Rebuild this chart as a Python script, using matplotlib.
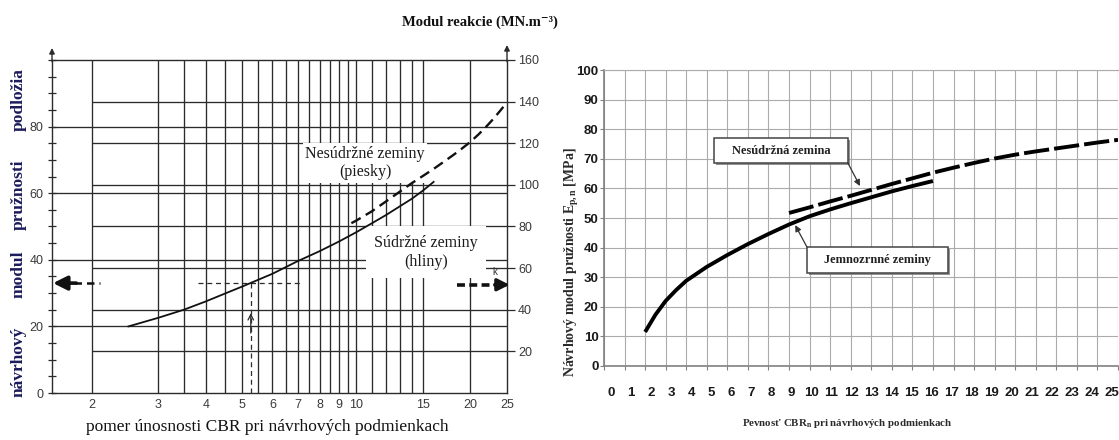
import matplotlib
matplotlib.use("Agg")
import matplotlib.pyplot as plt
from matplotlib.patches import Rectangle
from matplotlib.ticker import MultipleLocator, NullLocator, FixedLocator
from matplotlib.transforms import ScaledTranslation
import matplotlib.patheffects as pe

# ---------------- data: left panel (log CBR scale) ----------------
left_cbr_ticks = [2, 3, 4, 5, 6, 7, 8, 9, 10, 15, 20, 25]
left_cbr_grid = [2, 3, 3.5, 4, 4.5, 5, 5.5, 6, 6.5, 7, 7.5, 8, 8.5, 9, 9.5,
                 10, 11, 12, 13, 14, 15, 20]
left_e_ticks = [0, 20, 40, 60, 80]
left_e_lines = [20, 40, 60, 80]
right_k_ticks = [20, 40, 60, 80, 100, 120, 140, 160]
right_k_lines = [20, 40, 60, 80, 100, 120, 140]

cohesive_cbr = [2.5, 3, 3.5, 4, 5, 6, 7, 8, 9, 10, 11, 12, 13, 14, 15, 16]
cohesive_e = [20, 22.6, 25, 27.5, 32, 35.8, 39.6, 42.6, 45.5, 48.3, 51, 53.5,
              56, 58.3, 60.8, 63.4]
granular_cbr = [9.7, 10, 11, 12, 13, 14, 15, 16, 17, 18, 19, 20, 21, 22, 23,
                24, 25]
granular_e = [51, 51.8, 54.6, 57.6, 60.4, 63, 65.2, 67.3, 69.4, 71.4, 73.4,
              75.4, 77.6, 79.9, 82.3, 84.8, 87.3]

example_cbr = 5.26
example_e = 33

# ---------------- data: right panel (linear CBR scale) ----------------
right_cbr_ticks = list(range(0, 26))
right_e_ticks = list(range(0, 101, 10))
fine_cbr = [2, 2.5, 3, 3.5, 4, 5, 6, 7, 8, 9, 10, 11, 12, 13, 14, 15, 16]
fine_e = [11.5, 17.3, 22, 25.6, 28.8, 33.5, 37.5, 41.2, 44.6, 47.8, 50.6,
          52.9, 55, 57, 59, 60.8, 62.5]
coarse_cbr = [9, 10, 11, 12, 13, 14, 15, 16, 17, 18, 19, 20, 21, 22, 23, 24, 25]
coarse_e = [51.7, 53.6, 55.6, 57.5, 59.5, 61.5, 63.4, 65.3, 67, 68.6, 70.1,
            71.4, 72.5, 73.5, 74.5, 75.5, 76.4]

# ---------------- figure ----------------
W, H = 1119, 440
fig = plt.figure(figsize=(W / 100, H / 100), dpi=100)
plt.rcParams["mathtext.fontset"] = "custom"
plt.rcParams["mathtext.rm"] = "Liberation Serif:bold"
plt.rcParams["mathtext.bf"] = "Liberation Serif:bold"
plt.rcParams["mathtext.it"] = "Liberation Serif:bold:italic"

SERIF = ["Liberation Serif", "DejaVu Serif"]
SANS = ["Liberation Sans", "DejaVu Sans"]


def fx(px):
    return px / W


def fy(py):
    return 1 - py / H


# ================= LEFT PANEL =================
L0, R0, T0, B0 = 52, 507, 60, 393
ax1 = fig.add_axes([fx(L0), fy(B0), (R0 - L0) / W, (B0 - T0) / H])
ax1.set_xscale("log")
xmin_l = 1.57
ax1.set_xlim(xmin_l, 25)
ax1.set_ylim(0, 100)
gc = "#2b2b2b"

for x in left_cbr_grid:
    ax1.axvline(x, color=gc, lw=0.95, zorder=1)
ax1.hlines(left_e_lines, xmin_l, 25, color=gc, lw=0.95, zorder=1)
ax1.hlines([k / 1.6 for k in right_k_lines], 2, 25, color=gc, lw=0.95, zorder=1)

for s in ["left", "bottom", "top", "right"]:
    ax1.spines[s].set_color(gc)
    ax1.spines[s].set_linewidth(1.0)

ax1.xaxis.set_major_locator(FixedLocator(left_cbr_ticks))
ax1.xaxis.set_minor_locator(NullLocator())
ax1.set_xticklabels([str(v) for v in left_cbr_ticks])
ax1.tick_params(axis="x", length=0, pad=4, labelsize=9, labelcolor="#3a3a3a")
for t in ax1.get_xticklabels():
    t.set_family(SANS)

ax1.yaxis.set_major_locator(FixedLocator(left_e_ticks))
ax1.yaxis.set_minor_locator(MultipleLocator(5))
ax1.set_yticklabels([str(v) for v in left_e_ticks])
ax1.tick_params(axis="y", which="both", direction="inout", length=6, width=0.9,
                color=gc, pad=3, labelsize=9, labelcolor="#3a3a3a")
for t in ax1.get_yticklabels():
    t.set_family(SANS)

ax1r = ax1.twinx()
ax1r.set_ylim(0, 160)
ax1r.set_yticks(right_k_ticks)
ax1r.set_yticklabels([str(v) for v in right_k_ticks])
ax1r.tick_params(axis="y", direction="out", length=6, width=0.9, color=gc,
                 pad=2, labelsize=9, labelcolor="#3a3a3a")
for t in ax1r.get_yticklabels():
    t.set_family(SANS)
for s in ["left", "bottom", "top", "right"]:
    ax1r.spines[s].set_visible(False)

# curves
ax1.plot(cohesive_cbr, cohesive_e, color="#111111", lw=1.3, zorder=5)
ax1.plot(granular_cbr, granular_e, color="#111111", lw=1.7, dashes=(4.5, 2.5),
         zorder=5)

# axis arrows
for xf, tip in [(0, 1.036), (1, 1.045)]:
    ax1.annotate("", xy=(xf, tip), xytext=(xf, 0.995), xycoords="axes fraction",
                 arrowprops=dict(arrowstyle="-|>", color=gc, lw=1.0,
                                 mutation_scale=8, shrinkA=0, shrinkB=0),
                 annotation_clip=False)

# example reading lines
ax1.plot([3.81, 7.09], [example_e, example_e], color=gc, lw=0.9, dashes=(4, 3),
         zorder=4)
ax1.plot([example_cbr, example_cbr], [0, example_e], color=gc, lw=0.9,
         dashes=(4, 3), zorder=4)
ax1.annotate("", xy=(example_cbr, 24), xytext=(example_cbr, 18),
             arrowprops=dict(arrowstyle="->", color=gc, lw=0.9,
                             mutation_scale=10, shrinkA=0, shrinkB=0), zorder=4)
ax1.plot([1.8, 2.1], [example_e, example_e], color="#111111", lw=1.8,
         dashes=(3, 2), zorder=4)
ax1.annotate("", xy=(1.58, example_e), xytext=(1.82, example_e),
             arrowprops=dict(arrowstyle="-|>", color="#111111", lw=2.6,
                             mutation_scale=21, shrinkA=0, shrinkB=0),
             zorder=4, annotation_clip=False)
ax1.plot([18.4, 23.3], [32.5, 32.5], color="#111111", lw=2.6, dashes=(2.2, 1.2),
         zorder=4)
ax1.annotate("", xy=(25.4, 32.5), xytext=(23.2, 32.5),
             arrowprops=dict(arrowstyle="-|>", color="#111111", lw=2.4,
                             mutation_scale=18, shrinkA=0, shrinkB=0),
             zorder=6, annotation_clip=False)
ax1.text(22.9, 35.5, "k", fontsize=7, color="#333333", family=SANS, zorder=6)


def axfrac(px, py):
    return (px - L0) / (R0 - L0), (B0 - py) / (B0 - T0)


tx, ty = axfrac(365, 163)
ax1.text(tx, ty, "Nesúdržné zeminy\n(piesky)", transform=ax1.transAxes,
         ha="center", va="center", fontsize=11.5, family=SERIF,
         color="#1a1a1a", linespacing=1.2, zorder=3,
         bbox=dict(fc="white", ec="none", pad=2))
tx, ty = axfrac(426, 252)
ax1.text(tx, ty, "Súdržné zeminy\n(hliny)", transform=ax1.transAxes,
         ha="center", va="center", fontsize=11.5, family=SERIF,
         color="#1a1a1a", linespacing=1.25, zorder=3,
         bbox=dict(fc="white", ec="none", pad=6))

# texts outside
fig.text(fx(480), fy(22), "Modul reakcie (MN.m⁻³)", ha="center", va="center",
         fontsize=10.5, fontweight="bold", family=SERIF, color="#111111")
fig.text(fx(267), fy(427), "pomer únosnosti CBR pri návrhových podmienkach",
         ha="center", va="center", fontsize=12.5, family=SERIF, color="#111111")
navy = "#1c1c5c"
for word, yc in [("podložia", 100), ("pružnosti", 195), ("modul", 274),
                 ("návrhový", 362)]:
    fig.text(fx(19), fy(yc), word, rotation=90, ha="center", va="center",
             fontsize=12.5, fontweight="bold", family=SERIF, color=navy)

# ================= RIGHT PANEL =================
L1, R1, T1, B1 = 604, 1118, 70, 366
ax2 = fig.add_axes([fx(L1), fy(B1), (R1 - L1) / W, (B1 - T1) / H])
ax2.set_xlim(0, 25)
ax2.set_ylim(0, 100)
ax2.set_xticks(right_cbr_ticks)
ax2.set_yticks(right_e_ticks)
ax2.grid(True, color="#ababab", lw=0.8, zorder=0)
ax2.set_axisbelow(True)
ax2.spines["right"].set_visible(False)
ax2.spines["top"].set_color("#ababab")
ax2.spines["top"].set_linewidth(0.8)
for s in ["left", "bottom"]:
    ax2.spines[s].set_color("#808080")
    ax2.spines[s].set_linewidth(1.2)
ax2.tick_params(axis="both", length=3, color="#808080", labelsize=9.5,
                labelcolor="#1a1a1a")
ax2.tick_params(axis="x", labelbottom=False)
ax2.tick_params(axis="y", pad=1)
for t in ax2.get_yticklabels():
    t.set_family(SANS)
    t.set_fontweight("bold")

# x tick labels as in the original: slightly compressed relative to the grid
for k in right_cbr_ticks:
    off = ScaledTranslation((7 - 0.52 * k) / 100, -27 / 100, fig.dpi_scale_trans)
    ax2.text(k, 0, str(k), transform=ax2.get_xaxis_transform() + off,
             ha="center", va="center", fontsize=9.5, fontweight="bold",
             family=SANS, color="#1a1a1a", clip_on=False)

ax2.plot(fine_cbr, fine_e, color="black", lw=2.8, solid_capstyle="butt", zorder=4)
ax2.plot(coarse_cbr, coarse_e, color="black", lw=2.8, dashes=(6.5, 1.3),
         zorder=4)

shadow = [pe.SimplePatchShadow(offset=(1.5, -1.5), shadow_rgbFace="#777777",
                               alpha=0.8), pe.Normal()]
box1 = Rectangle((5.35, 68.6), 6.51, 8.4, fc="white", ec="#444444", lw=1.1,
                 zorder=5, path_effects=shadow)
ax2.add_patch(box1)
ax2.text(8.6, 72.8, "Nesúdržná zemina", ha="center", va="center", fontsize=9,
         fontweight="bold", family=SERIF, color="#222222", zorder=6)
ax2.annotate("", xy=(12.45, 60.8), xytext=(11.86, 68.6),
             arrowprops=dict(arrowstyle="-|>", color="#333333", lw=0.9,
                             mutation_scale=9, shrinkA=0, shrinkB=0), zorder=6)

box2 = Rectangle((9.87, 31.4), 6.85, 8.8, fc="white", ec="#444444", lw=1.1,
                 zorder=5, path_effects=shadow)
ax2.add_patch(box2)
ax2.text(13.3, 35.8, "Jemnozrnné zeminy", ha="center", va="center", fontsize=9,
         fontweight="bold", family=SERIF, color="#222222", zorder=6)
ax2.annotate("", xy=(9.3, 47.6), xytext=(9.87, 40.2),
             arrowprops=dict(arrowstyle="-|>", color="#333333", lw=0.9,
                             mutation_scale=9, shrinkA=0, shrinkB=0), zorder=6)

fig.text(fx(572), fy(262), r"Návrhový modul pružnosti E$\mathrm{_{p,n}}$ [MPa]",
         rotation=90, ha="center", va="center", fontsize=10, fontweight="bold",
         family=SERIF, color="#2a2a2a")
fig.text(fx(847), fy(423), r"Pevnosť CBR$\mathrm{_{n}}$ pri návrhových podmienkach",
         ha="center", va="center", fontsize=7.8, fontweight="bold", family=SERIF,
         color="#2a2a2a")

fig.savefig("out.png", dpi=100)
